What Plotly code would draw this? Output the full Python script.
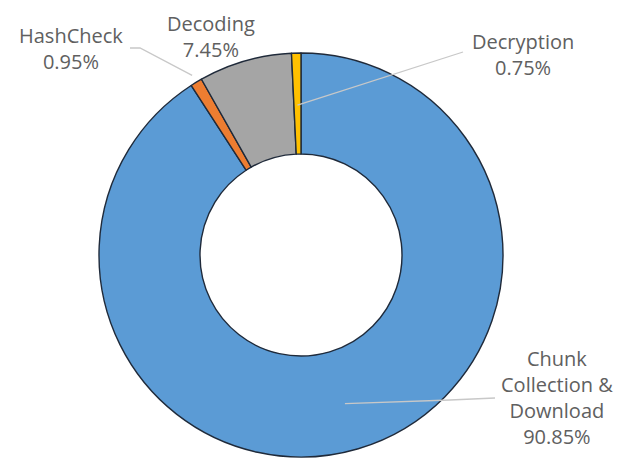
import math
import plotly.graph_objects as go

labels = ["Chunk Collection & Download", "HashCheck", "Decoding", "Decryption"]
label_text = ["Chunk<br>Collection &amp;<br>Download", "HashCheck", "Decoding", "Decryption"]
values = [90.85, 0.95, 7.45, 0.75]
colors = ["#5B9BD5", "#ED7D31", "#A5A5A5", "#FFC000"]

W, H = 619, 459
CX, CY, R = 301, 255, 202
HOLE = 0.5

fig = go.Figure(go.Pie(
    labels=labels, values=values, sort=False, direction="clockwise", rotation=0,
    hole=HOLE, textinfo="none", hoverinfo="label+percent",
    marker=dict(colors=colors, line=dict(color="#1F2A3A", width=1.4)),
    domain=dict(x=[(CX - R) / W, (CX + R) / W],
                y=[max(0, (H - CY - R) / H), (H - CY + R) / H]),
    showlegend=False,
))

def px(x, y):
    return x / W, 1 - y / H

total = sum(values)
mids = []
acc = 0
for v in values:
    mids.append((acc + v / 2) / total * 360)
    acc += v

def ring_point(i, r):
    a = math.radians(mids[i])
    return CX + r * math.sin(a), CY - r * math.cos(a)

label_pos = [(557, 397), (71, 49), (211, 37), (523, 54)]
leaders = [
    (ring_point(0, 155), [(450, 400), (495, 398)]),
    (ring_point(1, 210), [(140, 48), (130, 48)]),
    None,
    (ring_point(3, 150), [(463, 52)]),
]

shapes = []
for ld in leaders:
    if ld is None:
        continue
    pts = [ld[0]] + ld[1]
    path = "M " + " L ".join(f"{p[0]},{p[1]}" for p in [px(*q) for q in pts])
    shapes.append(dict(type="path", xref="paper", yref="paper", path=path,
                       line=dict(color="#C8C8C8", width=1.3)))

annotations = []
for i, (x, y) in enumerate(label_pos):
    xp, yp = px(x, y)
    annotations.append(dict(
        x=xp, y=yp, xref="paper", yref="paper", showarrow=False,
        text=f"{label_text[i]}<br>{values[i]:.2f}%",
        font=dict(family="Open Sans", size=20, color="#606060"),
        align="center", xanchor="center", yanchor="middle",
    ))

fig.update_layout(
    width=W, height=H, margin=dict(l=0, r=0, t=0, b=0),
    paper_bgcolor="white", plot_bgcolor="white",
    shapes=shapes, annotations=annotations,
)
fig.write_html("out.html", config={"displayModeBar": False},
               post_script="document.body.style.margin='0';")
